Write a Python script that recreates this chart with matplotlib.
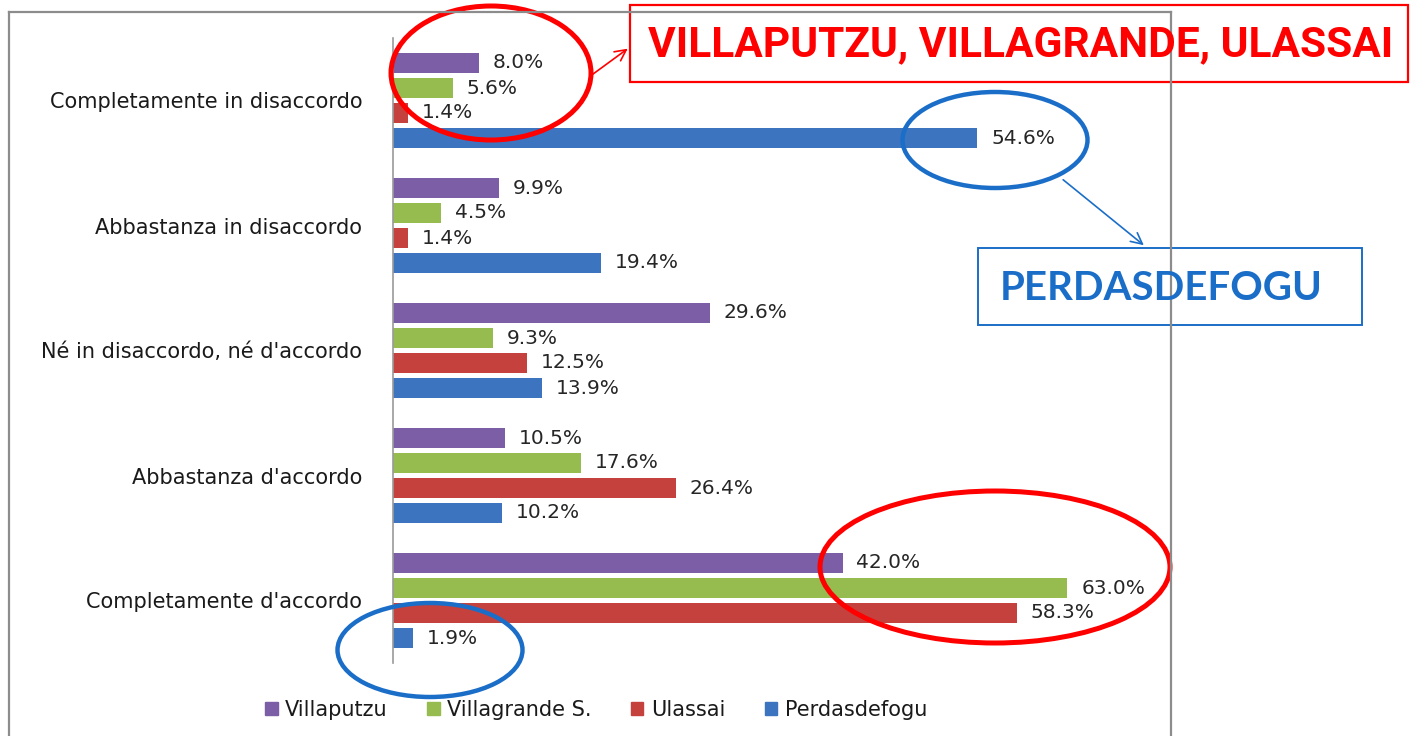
import numpy as np
import matplotlib.pyplot as plt
from matplotlib.patches import Ellipse, Rectangle, FancyArrowPatch
from matplotlib.lines import Line2D

categories = ["Completamente in disaccordo", "Abbastanza in disaccordo",
              "Né in disaccordo, né d'accordo", "Abbastanza d'accordo",
              "Completamente d'accordo"]
series = ["Villaputzu", "Villagrande S.", "Ulassai", "Perdasdefogu"]
villaputzu = [8.0, 9.9, 29.6, 10.5, 42.0]
villagrande = [5.6, 4.5, 9.3, 17.6, 63.0]
ulassai = [1.4, 1.4, 12.5, 26.4, 58.3]
perdasdefogu = [54.6, 19.4, 13.9, 10.2, 1.9]
colors = ["#7b5ea6", "#96bb4e", "#c4413e", "#3d74bf"]

plt.rcParams['font.family'] = ['DejaVu Sans']

fig = plt.figure(figsize=(14.14, 7.36), dpi=100)
ax = fig.add_axes([393 / 1414, 73 / 736, 760 / 1414, 625 / 736])

y = np.arange(len(categories))
step = 0.2
values = [villaputzu, villagrande, ulassai, perdasdefogu]
for i, (name, vals, col) in enumerate(zip(series, values, colors)):
    pos = y + (i - 1.5) * step
    ax.barh(pos, vals, height=0.16, color=col, label=name)
    for p, v in zip(pos, vals):
        ax.annotate(f"{v:.1f}%", (v, p), xytext=(10, 0), textcoords="offset points",
                    va="center", ha="left", fontsize=14.5, color="#262626")

ax.set_xlim(0, 71)
ax.set_ylim(4.5, -0.5)
ax.set_yticks(y)
ax.set_yticklabels(categories, fontsize=15, color="#1a1a1a")
ax.tick_params(axis="y", length=0, pad=22)
ax.set_xticks([])
for s in ["top", "right", "bottom"]:
    ax.spines[s].set_visible(False)
ax.spines["left"].set_color("#9a9a9a")
ax.spines["left"].set_linewidth(1.2)

handles = [Rectangle((0, 0), 1, 1, color=c) for c in colors]
fig.legend(handles, series, loc="center", bbox_to_anchor=(596 / 1414, 1 - 710 / 736),
           ncol=4, frameon=False, fontsize=15, handlelength=0.6, handleheight=0.6,
           handletextpad=0.35, columnspacing=1.9, labelcolor="#1a1a1a")

# overlay in pixel coordinates for the frame and the hand-drawn marks
ov = fig.add_axes([0, 0, 1, 1], zorder=5)
ov.set_xlim(0, 1414)
ov.set_ylim(736, 0)
ov.axis("off")
ov.patch.set_alpha(0)

frame_col = "#8c8c8c"
ov.add_line(Line2D([9, 9], [745, 12], color=frame_col, lw=1.6))
ov.add_line(Line2D([9, 1171], [12, 12], color=frame_col, lw=1.6))
ov.add_line(Line2D([1171, 1171], [12, 745], color=frame_col, lw=1.6))

red = "#ff0000"
blue = "#1b6ec8"

ov.add_patch(Ellipse((491, 73), 200, 134, fill=False, ec=red, lw=3.6))
ov.add_patch(Ellipse((995, 567), 350, 152, fill=False, ec=red, lw=3.6))
ov.add_patch(Ellipse((995, 140), 185, 96, fill=False, ec=blue, lw=3.2))
ov.add_patch(Ellipse((430, 650), 185, 94, fill=False, ec=blue, lw=3.2))

ov.add_patch(Rectangle((630, 5), 778, 77, fill=False, ec=red, lw=1.6))
ov.add_patch(Rectangle((978, 248), 384, 77, fill=False, ec=blue, lw=1.4))

ov.add_patch(FancyArrowPatch((589, 77), (630, 47), arrowstyle="->,head_length=8,head_width=4",
                             color=red, lw=1.2))
ov.add_patch(FancyArrowPatch((1061, 178), (1146, 247), arrowstyle="->,head_length=8,head_width=4",
                             color=blue, lw=1.2))

t_red = ov.text(648, 45, "VILLAPUTZU, VILLAGRANDE, ULASSAI", ha="left", va="center",
                fontsize=30, fontweight="bold", color=red, family=['Roboto', 'DejaVu Sans'])
t_blue = ov.text(1000, 288, "PERDASDEFOGU", ha="left", va="center",
                 fontsize=24, fontweight="bold", color=blue, family=['Lato', 'DejaVu Sans'])

# shrink/grow the two callout texts so they fill their boxes like the original
renderer = fig.canvas.get_renderer()
for t, target in [(t_red, 742), (t_blue, 322)]:
    w = t.get_window_extent(renderer).width
    t.set_fontsize(t.get_fontsize() * target / w)

fig.savefig("out.png", dpi=100)
